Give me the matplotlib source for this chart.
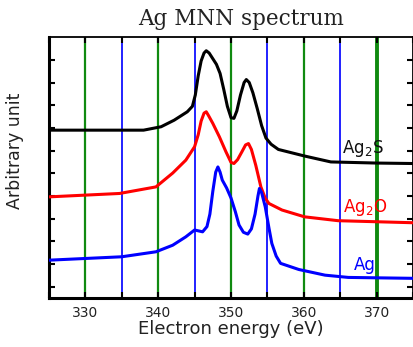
import matplotlib
matplotlib.use("Agg")
import matplotlib.pyplot as plt
from matplotlib.ticker import MultipleLocator, FixedLocator, NullFormatter

# --- data (arbitrary units) ---
ag2s_e = [325, 330, 335, 338, 340.4, 342.2, 344, 344.7, 345.1, 345.5, 345.9, 346.3, 346.6, 347.0,
          347.5, 348.0, 348.5, 349.0, 349.5, 350.0, 350.4, 350.8, 351.3, 351.8, 352.1, 352.5,
          353.0, 353.6, 354.2, 354.8, 355.5, 356.5, 360.1, 363.7, 370, 375]
ag2s_y = [7.40, 7.40, 7.40, 7.40, 7.55, 7.84, 8.21, 8.45, 8.95, 9.80, 10.45, 10.80, 10.90, 10.80,
          10.55, 10.30, 9.90, 9.20, 8.45, 7.95, 7.92, 8.25, 8.95, 9.50, 9.63, 9.50,
          9.05, 8.35, 7.60, 7.05, 6.78, 6.55, 6.26, 6.00, 5.95, 5.93]

ag2o_e = [325, 334.7, 339.7, 342, 343.8, 345, 345.5, 345.9, 346.3, 346.6, 346.9, 347.5, 348.4,
          349.3, 350.0, 350.4, 350.9, 351.5, 352.0, 352.4, 352.8, 353.4, 354.1, 354.7, 355.2,
          357, 360.1, 364.7, 375]
ag2o_y = [4.46, 4.61, 4.90, 5.51, 6.08, 6.67, 7.20, 7.80, 8.15, 8.21, 8.05, 7.70, 7.11,
          6.45, 5.98, 5.93, 6.10, 6.45, 6.75, 6.81, 6.55, 5.85, 4.90, 4.40, 4.17,
          3.88, 3.58, 3.41, 3.32]

ag_e = [325, 335, 339.7, 342, 343.8, 345, 346.1, 346.7, 347.1, 347.5, 347.9, 348.2, 348.5, 348.8,
        349.4, 350, 350.6, 351.1, 351.7, 352.3, 352.8, 353.3, 353.7, 353.9, 354.2, 354.7,
        355.2, 355.6, 356.2, 356.8, 359.3, 362.9, 366.1, 375]
ag_y = [1.67, 1.82, 2.04, 2.33, 2.70, 3.00, 2.92, 3.15, 3.70, 4.70, 5.55, 5.78, 5.55, 5.20,
        4.85, 4.41, 3.80, 3.22, 2.90, 2.82, 3.05, 3.70, 4.50, 4.83, 4.65, 4.02,
        3.10, 2.41, 1.85, 1.53, 1.26, 1.01, 0.91, 0.87]

green_lines = [330, 340, 350, 360, 370]
blue_lines = [335, 345, 355, 365]
x_ticks = [330, 340, 350, 360, 370]

fig = plt.figure(figsize=(4.14, 3.47), dpi=100)
ax = fig.add_axes([0.118, 0.141, 0.880, 0.752])

for x in green_lines:
    ax.axvline(x, color="#108a10", lw=1.6 if x != 370 else 2.8, zorder=1)
for x in blue_lines:
    ax.axvline(x, color="#1010ff", lw=1.3, zorder=1)

ax.plot(ag2s_e, ag2s_y, color="black", lw=2.2, zorder=3)
ax.plot(ag2o_e, ag2o_y, color="#ff0000", lw=2.2, zorder=3)
ax.plot(ag_e, ag_y, color="#0000ff", lw=2.2, zorder=3)

ax.text(368.1, 6.6, "Ag$_2$S", color="#111111", fontsize=12, ha="center", va="center", zorder=4)
ax.text(368.4, 4.0, "Ag$_2$O", color="#ff0000", fontsize=12, ha="center", va="center", zorder=4)
ax.text(368.4, 1.45, "Ag", color="#0000ff", fontsize=12, ha="center", va="center", zorder=4)

ax.set_xlim(325, 375)
ax.set_ylim(0, 11.5)
ax.xaxis.set_major_locator(FixedLocator(x_ticks))
ax.xaxis.set_minor_locator(MultipleLocator(5))
ax.yaxis.set_major_locator(FixedLocator([0.5 + i for i in range(11)]))
ax.yaxis.set_major_formatter(NullFormatter())
ax.tick_params(axis="both", which="both", direction="in", top=True, right=True,
               length=4, width=1.5, color="black")
ax.tick_params(axis="x", labelsize=10, pad=6, labelcolor="#222222")

for s in ["left", "bottom"]:
    ax.spines[s].set_linewidth(2.2)
for s in ["top", "right"]:
    ax.spines[s].set_linewidth(1.3)

ax.set_xlabel("Electron energy (eV)", fontsize=13, labelpad=0, color="#222222")
ax.set_ylabel("Arbitrary unit", fontsize=12.5, color="#222222")
ax.yaxis.set_label_coords(-0.069, 0.563)
ax.set_title("Ag MNN spectrum", fontsize=15.5, family="DejaVu Serif", x=0.527, pad=9,
             color="#222222")

fig.savefig("out.png", dpi=100)
